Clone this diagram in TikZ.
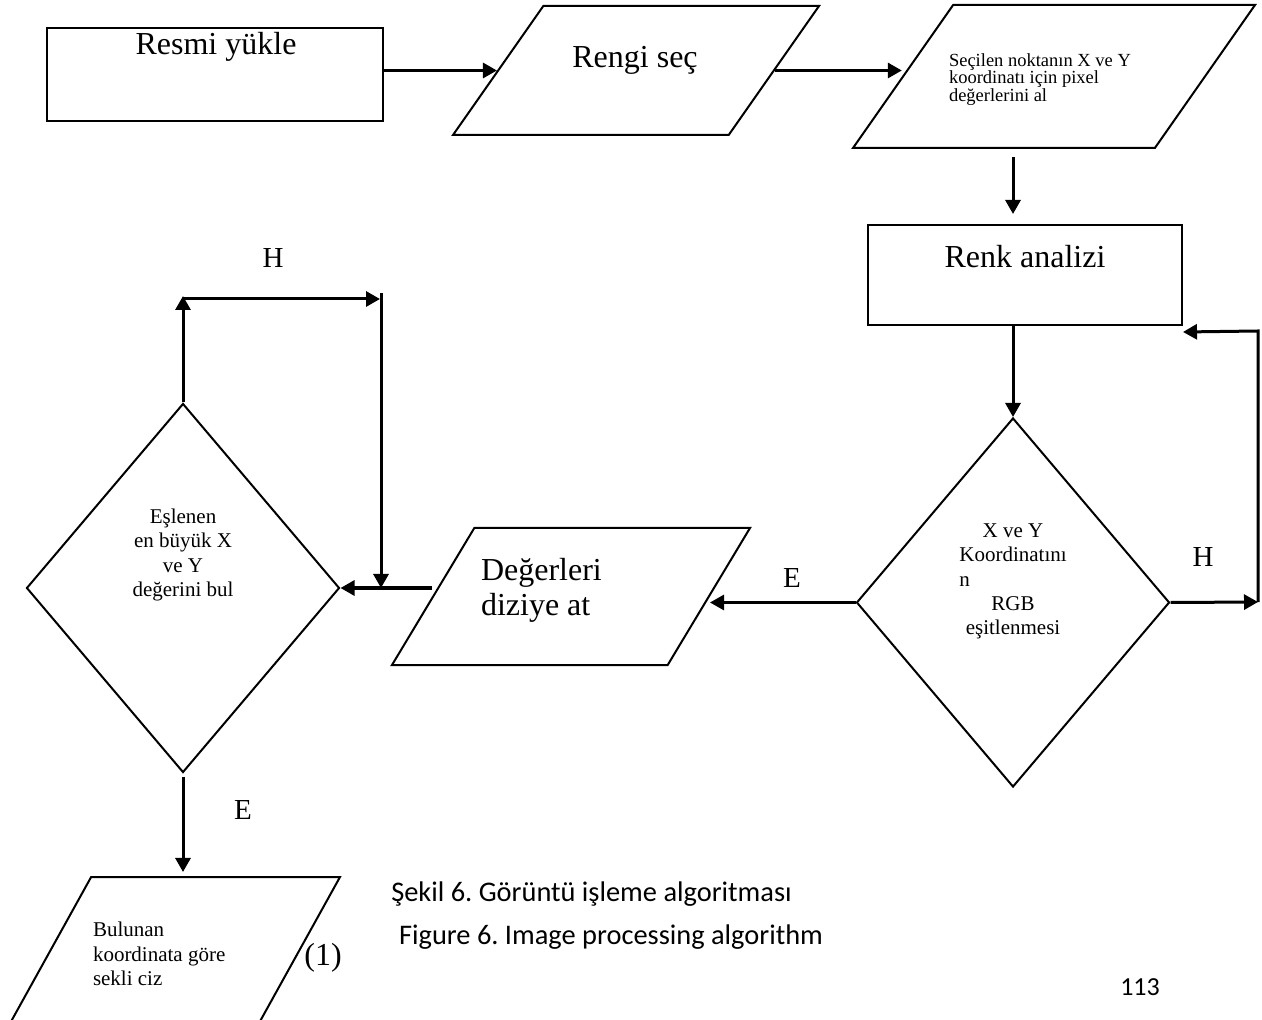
\documentclass[tikz,border=0pt]{standalone}
\usepackage{fontspec}
\setmainfont{Liberation Serif}
\newfontfamily\capfont{Carlito}
\usetikzlibrary{arrows.meta}
\usetikzlibrary{shapes.geometric}
\usetikzlibrary{calc}

\begin{document}
\begin{tikzpicture}[x=0.5pt, y=-0.5pt, line width=1pt,
  box/.style={draw, rectangle, inner sep=0pt},
  para/.style={draw, trapezium, trapezium stretches body, inner xsep=0pt},
  dec/.style={draw, diamond, inner sep=0pt, minimum width=156.5pt, minimum height=184.5pt},
  arr/.style={line width=1.5pt, -{Triangle[length=7pt,width=7.5pt]}},
  big/.style={inner sep=0pt, font=\fontsize{16}{17.5}\selectfont},
  lbl/.style={inner sep=0pt, font=\fontsize{14.5}{16}\selectfont},
  mid/.style={inner sep=0pt, align=center, font=\fontsize{10.5}{12.2}\selectfont},
  sml/.style={inner sep=0pt, align=left, font=\fontsize{9.25}{8.75}\selectfont},
  capt/.style={inner sep=0pt, font=\capfont\fontsize{14.2}{16}\selectfont\frenchspacing}]
  \useasboundingbox (0,0) rectangle (1262,1020);

  \node[box, minimum width=168pt, minimum height=46.5pt] (n1) at (215,74.5) {};
  \node[para, trapezium left angle=55, trapezium right angle=125,
    minimum width=183pt, inner ysep=32.25pt] (n2) at (636,70.5) {};
  \node[para, trapezium left angle=55, trapezium right angle=125,
    minimum width=201pt, inner ysep=35.75pt] (n3) at (1054,76.5) {};
  \node[box, minimum width=157pt, minimum height=50pt] (n4) at (1025,275) {};
  \node[dec] (n5) at (1013,602.5) {};
  \node[para, trapezium left angle=59, trapezium right angle=121,
    minimum width=179pt, inner ysep=34.25pt] (n6) at (571,596.5) {};
  \node[dec] (n7) at (183,588) {};
  \node[para, trapezium left angle=61, trapezium right angle=119,
    minimum width=166pt, inner ysep=37.5pt] (n8) at (174,952) {};

  \node[big] (t1) at (216,47) {Resmi yükle};
  \node[big] (t2) at (635,60) {Rengi seç};
  \node[sml, anchor=west] (t3) at (948,79.5)
    {Seçilen noktanın X ve Y\\koordinatı için pixel\\değerlerini al};
  \node[big] (t4) at (1025,257) {Renk analizi};
  \node[mid] (t5) at (1013,581.5)
    {X ve Y\\Koordinatını\\\rlap{n}\phantom{Koordinatını}\\RGB\\eşitlenmesi};
  \node[big, align=left, anchor=west] (t6) at (480,590.5) {Değerleri\\diziye at};
  \node[mid] (t7) at (183,555) {Eşlenen\\en büyük X\\ve Y\\değerini bul};
  \node[mid, align=left, anchor=west] (t8) at (92,954)
    {Bulunan\\koordinata göre\\sekli ciz};

  \node[lbl] (l1) at (1203,557) {H};
  \node[lbl] (l2) at (792,578) {E};
  \node[lbl] (l3) at (273,258) {H};
  \node[lbl] (l4) at (243,810) {E};
  \node[big] (l5) at (323,958) {(1)};

  \node[capt] (c1) at (591.5,894) {Şekil 6. Görüntü işleme algoritması};
  \node[capt] (c2) at (611,937) {Figure 6. Image processing algorithm};
  \node[capt, font=\capfont\fontsize{13}{15}\selectfont] (c3) at (1140,987) {113};

  \coordinate (h1) at (1258,602);
  \coordinate (h2) at (1258,331);
  \coordinate (h3) at (183,296);
  \coordinate (h4) at (183,299);
  \coordinate (h5) at (380,299);
  \coordinate (h6) at (381,293);

  \foreach \from/\to in {n2.west -| n1.east/n2.west, n2.east/n2.east -| n3.west,
      n5.east/h1, n5.west/n5.west -| n6.east, n7.east -| n6.west/n7.east,
      n7.north/h3, h4/h5, h6/h6 |- n7.east}
   \draw[arr] (\from) -- (\to);
  \draw[arr, shorten <=4pt, shorten >=5pt] (n5.north |- n3.south) -- (n5.north |- n4.north);
  \draw[arr] (n5.north |- n4.south) -- (n5.north);
  \draw[arr] (h1) -- (h2) -- ([yshift=-3pt]n4.south east);
  \draw[arr, shorten <=1.5pt, shorten >=2pt] (n7.south) -- (n7.south |- n8.north);
\end{tikzpicture}
\end{document}
